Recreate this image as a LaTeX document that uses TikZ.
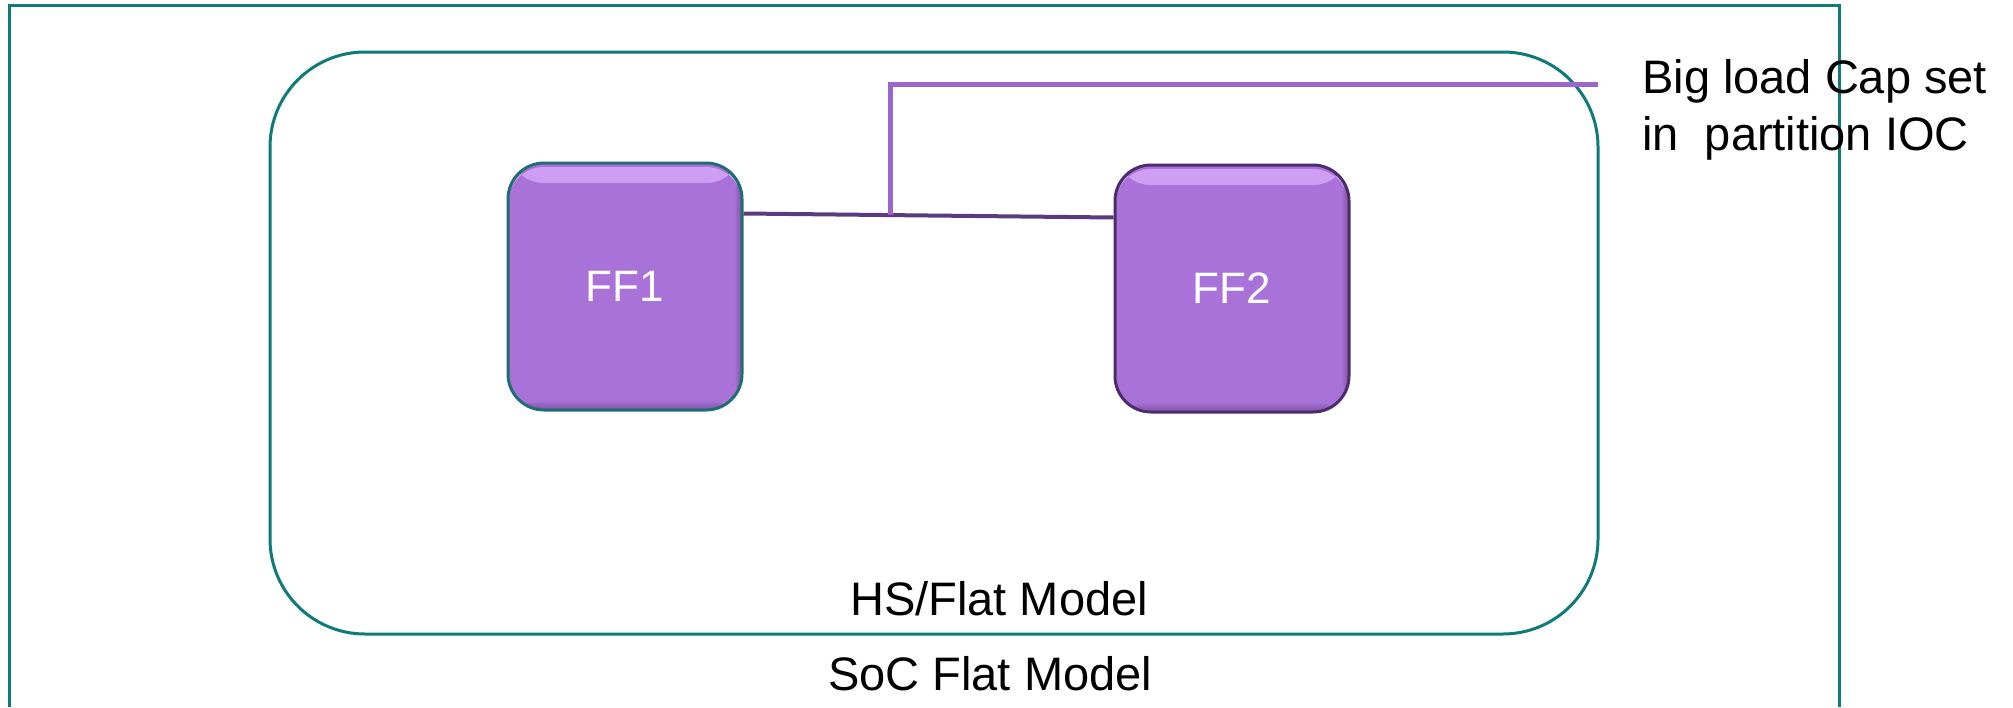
\documentclass[tikz,border=0pt]{standalone}
\usepackage{fontspec}
\setmainfont{Liberation Sans}
\definecolor{teal1}{HTML}{0E7A7A}
\definecolor{ffpurple}{HTML}{A972D9}
\definecolor{fftop}{HTML}{CFA0F5}
\definecolor{ffdark}{HTML}{7A529E}
\definecolor{edgeA}{HTML}{1F6E70}
\definecolor{edgeB}{HTML}{4B2D6B}
\definecolor{wiredark}{HTML}{5B3A80}
\definecolor{wirelight}{HTML}{9B66CC}
\tikzset{
  frame/.style={draw=teal1, line width=3pt},
  ffbox/.style={rounded corners=36pt, minimum width=234pt, minimum height=247pt,
    fill=ffpurple, draw=#1, line width=3pt, text=white, inner sep=0pt,
    font=\fontsize{44}{50}\selectfont,
    path picture={
      \shade[top color=fftop, bottom color=ffpurple]
        ([yshift=-4pt]path picture bounding box.north west) rectangle
        ([yshift=-20pt]path picture bounding box.north east);
      \shade[top color=ffpurple, bottom color=ffdark]
        ([yshift=10pt]path picture bounding box.south west) rectangle
        (path picture bounding box.south east);
      \shade[left color=ffpurple, right color=ffdark]
        ([xshift=-8pt]path picture bounding box.north east) rectangle
        (path picture bounding box.south east);
    }},
  wire/.style={draw=wiredark, line width=4pt},
  capwire/.style={draw=wirelight, line width=5pt},
  lbl/.style={font=\fontsize{47}{57}\selectfont, inner sep=0pt, text=black},
}
\begin{document}
\begin{tikzpicture}[x=1pt,y=-1pt]
\useasboundingbox (0,0) rectangle (2013,707);
% outer frame (bottom side outside the picture)
\draw[frame] (9,707) -- (9,5) -- (1839,5) -- (1839,707);
% inner rounded frame
\draw[frame, rounded corners=95pt] (270,52) rectangle (1598,634);
% flip-flops
\node[ffbox=edgeA] (ff1) at (625,286.5) {FF1};
\node[ffbox=edgeB] (ff2) at (1232,288.5) {FF2};
% wire
\coordinate (capend) at (1598,84);
\draw[wire] ([yshift=-52pt]ff1.north east) -- coordinate[pos=0.397] (j) ([yshift=-54pt]ff2.north west);
\draw[capwire] (j) |- (capend);
% labels
\node[lbl, anchor=base west, align=left] (cap) at (1642,150) {Big load Cap set\\in\ \ partition IOC};
\node[lbl, anchor=base west] (hs) at (850,615) {HS/Flat Model};
\node[lbl, anchor=base west] (soc) at (828,690) {SoC Flat Model};
\end{tikzpicture}
\end{document}
